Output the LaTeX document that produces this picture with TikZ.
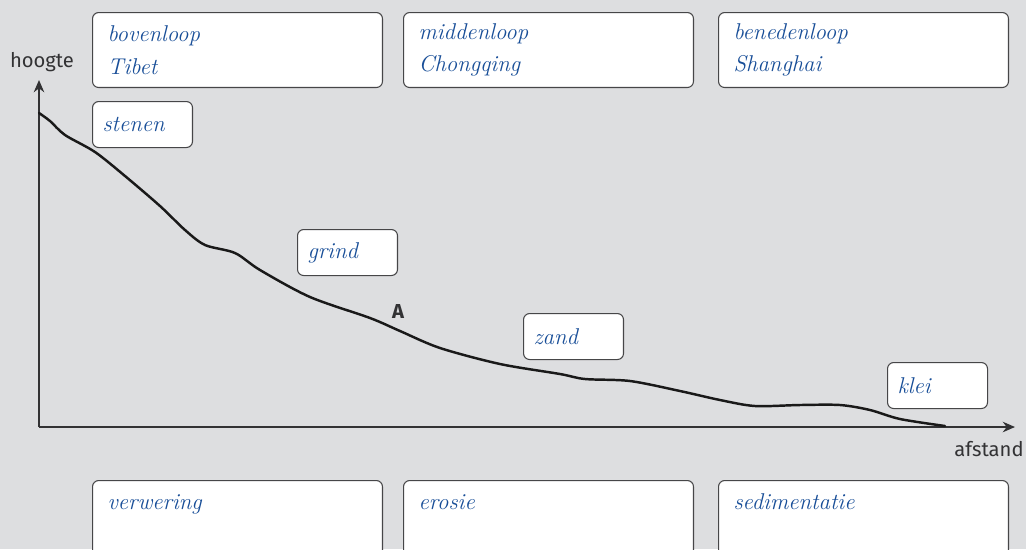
\documentclass[tikz,border=0pt]{standalone}
\usepackage{fontspec}
\setsansfont{Fira Sans}
\definecolor{bggray}{RGB}{221, 222, 224}
\definecolor{penblue}{RGB}{24, 78, 152}
\definecolor{axisgray}{RGB}{50, 50, 52}
\definecolor{framegray}{RGB}{70, 70, 72}
\usetikzlibrary{arrows.meta, positioning}

\tikzset{
  vak/.style={draw=framegray, fill=white, rounded corners=3.5pt, line width=0.6pt, anchor=north west,
    align=left, text=penblue, font=\fontsize{13}{18.5}\selectfont\itshape},
  grootvak/.style={vak, text width=5.2cm, inner xsep=0.3cm, minimum height=1.5cm},
  kleinvak/.style={vak, text width=1.6cm, inner xsep=0.2cm, minimum height=0.92cm},
  ondervak/.style={grootvak, minimum height=0cm, inner ysep=0.2cm, text height=0.38cm, text depth=1.6cm},
  aslabel/.style={font=\sffamily\fontsize{11.5}{13}\selectfont, text=axisgray}
}

\begin{document}
\begin{tikzpicture}[x=0.02cm, y=-0.02cm]
  % Background
  \clip (0,0) rectangle (1026,549);
  \fill[bggray] (0,0) rectangle (1026,549);

  % Top boxes
  \node[grootvak] (boven) at (92,12) {bovenloop\\Tibet};
  \node[grootvak] (midden) at (403,12) {middenloop\\Chongqing};
  \node[grootvak] (beneden) at (718,12) {benedenloop\\Shanghai};

  % Sediment boxes
  \node[kleinvak] (stenen) at (92,101) {stenen};
  \node[kleinvak] (grind) at (297,229) {grind};
  \node[kleinvak] (zand) at (523,313) {zand};
  \node[kleinvak] (klei) at (887,362) {klei};

  % Bottom boxes
  \node[ondervak] (verwering) at (92,480) {verwering};
  \node[ondervak] (erosie) at (403,480) {erosie};
  \node[ondervak] (sedimentatie) at (718,480) {sedimentatie};

  % Axes
  \coordinate (oorsprong) at (39,427);
  \coordinate (ytop) at (39,80);
  \coordinate (xend) at (1015,427);
  \draw[axisgray, line width=0.8pt, -{Stealth[length=7pt, width=6pt]}] (oorsprong) -- (ytop);
  \draw[axisgray, line width=0.8pt, -{Stealth[length=7pt, width=6pt]}] (oorsprong) -- (xend);
  \node[aslabel] (hoogte) at (42,62) {hoogte};
  \node[aslabel] (afstand) at (989,449) {afstand};

  % River profile
  \draw[black!90, line width=1.4pt, line cap=round] plot[smooth, tension=0.5] coordinates {
    (39,113) (50,121) (65,135) (95,152) (125,176) (160,206) (185,230) (205,245)
    (235,253) (260,270) (310,297) (370,318) (400,331) (440,348) (500,364)
    (560,374) (585,379) (630,381) (680,391) (720,400) (755,406) (800,405)
    (840,405) (870,410) (900,419) (945,426)};
  \node[font=\sffamily\bfseries\fontsize{11.5}{13}\selectfont, text=axisgray] (A) at (398,311) {A};
\end{tikzpicture}
\end{document}
